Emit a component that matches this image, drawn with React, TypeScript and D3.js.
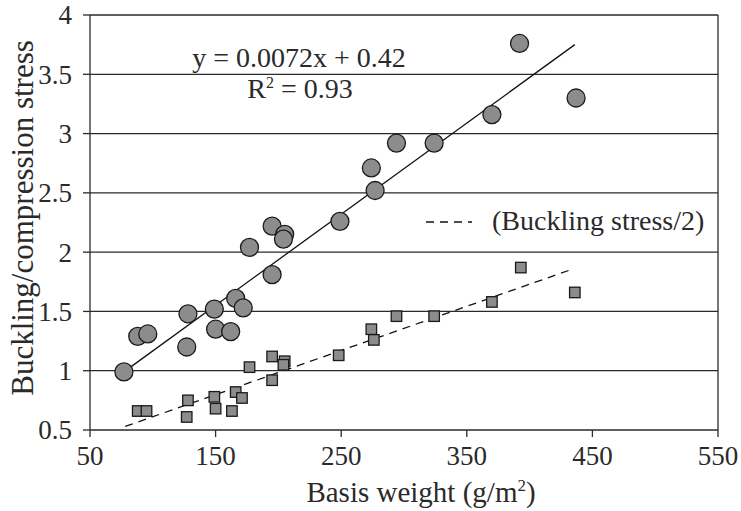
import React from "react";
import * as d3 from "d3";

// Compression stress (circles)
const circleX = [77, 88, 96, 127, 128, 149, 150, 162, 166, 172, 177, 195, 195, 205, 204, 249, 274, 277, 294, 324, 370, 392, 437];
const circleY = [0.99, 1.29, 1.31, 1.20, 1.48, 1.52, 1.35, 1.33, 1.61, 1.53, 2.04, 1.81, 2.22, 2.15, 2.11, 2.26, 2.71, 2.52, 2.92, 2.92, 3.16, 3.76, 3.30];

// Buckling stress / 2 (squares)
const squareX = [88, 95, 127, 128, 149, 150, 163, 166, 171, 177, 195, 195, 205, 204, 248, 274, 276, 294, 324, 370, 393, 436];
const squareY = [0.66, 0.66, 0.61, 0.75, 0.78, 0.68, 0.66, 0.82, 0.77, 1.03, 0.92, 1.12, 1.08, 1.05, 1.13, 1.35, 1.26, 1.46, 1.46, 1.58, 1.87, 1.66];

// Trend lines (endpoints)
const solidTrendX = [77, 436];
const solidTrendY = [0.99, 3.75];
const dashTrendX = [78, 435];
const dashTrendY = [0.53, 1.86];

const xTicks = [50, 150, 250, 350, 450, 550];
const yTicks = [0.5, 1, 1.5, 2, 2.5, 3, 3.5, 4];
const yTickLabels = ["0.5", "1", "1.5", "2", "2.5", "3", "3.5", "4"];

const equationText = "y = 0.0072x + 0.42";
const legendText = "(Buckling stress/2)";
const xTitle = "Basis weight (g/m";
const yTitle = "Buckling/compression stress";

const W = 741;
const H = 511;
const left = 90, right = 718, top = 15, bottom = 430;
const TS = { fontFamily: '"Liberation Serif"' };
const INK = "#2a2a2a";
const FILL = "#8c8c8c";

export default function App() {
  const x = d3.scaleLinear().domain([50, 550]).range([left, right]);
  const y = d3.scaleLinear().domain([0.5, 4]).range([bottom, top]);
  const line = d3.line<[number, number]>().x((d) => x(d[0])).y((d) => y(d[1]));
  const solid: [number, number][] = solidTrendX.map((v, i) => [v, solidTrendY[i]]);
  const dashed: [number, number][] = dashTrendX.map((v, i) => [v, dashTrendY[i]]);
  const sq = 10.5;

  return (
    <svg width={W} height={H} style={{ position: "absolute", left: 0, top: 0, background: "#fff" }}>
      {/* gridlines */}
      {yTicks.map((t) => (
        <line key={"g" + t} x1={left} x2={right} y1={y(t)} y2={y(t)} stroke={INK} strokeWidth={1.3} />
      ))}
      {/* axes */}
      <line x1={left} x2={left} y1={top} y2={bottom} stroke={INK} strokeWidth={1.3} />
      <line x1={right} x2={right} y1={top} y2={bottom} stroke={INK} strokeWidth={1.3} />
      {yTicks.map((t, i) => (
        <g key={"yt" + t}>
          <line x1={left - 7} x2={left} y1={y(t)} y2={y(t)} stroke={INK} strokeWidth={1.3} />
          <text x={72} y={y(t)} dy="0.35em" textAnchor="end" fontSize={27} fill={INK} style={TS}>{yTickLabels[i]}</text>
        </g>
      ))}
      {xTicks.map((t) => (
        <g key={"xt" + t}>
          <line x1={x(t)} x2={x(t)} y1={bottom} y2={bottom + 7} stroke={INK} strokeWidth={1.3} />
          <text x={x(t)} y={465} textAnchor="middle" fontSize={27} fill={INK} style={TS}>{t}</text>
        </g>
      ))}
      {/* trend lines */}
      <path d={line(solid) || ""} fill="none" stroke="#111" strokeWidth={1.3} />
      <path d={line(dashed) || ""} fill="none" stroke="#111" strokeWidth={1.3} strokeDasharray="8,6" />
      {/* squares */}
      {squareX.map((v, i) => (
        <rect key={"s" + i} x={x(v) - sq / 2} y={y(squareY[i]) - sq / 2} width={sq} height={sq} fill={FILL} stroke="#1a1a1a" strokeWidth={1.3} />
      ))}
      {/* circles */}
      {circleX.map((v, i) => (
        <circle key={"c" + i} cx={x(v)} cy={y(circleY[i])} r={9} fill={FILL} stroke="#1a1a1a" strokeWidth={1.3} />
      ))}
      {/* equation */}
      <text x={299} y={67} textAnchor="middle" fontSize={28} fill={INK} style={TS}>{equationText}</text>
      <text x={300} y={98} textAnchor="middle" fontSize={28} fill={INK} style={TS}>
        R<tspan fontSize={16} dy={-10}>2</tspan><tspan dy={10}> = 0.93</tspan>
      </text>
      {/* legend */}
      <line x1={426} x2={472} y1={222} y2={222} stroke="#111" strokeWidth={1.3} strokeDasharray="8,6" />
      <text x={492} y={230} fontSize={28} fill={INK} style={TS}>{legendText}</text>
      {/* axis titles */}
      <text x={421} y={502} textAnchor="middle" fontSize={29} fill={INK} style={TS}>
        {xTitle}<tspan fontSize={17} dy={-11}>2</tspan><tspan dy={11}>)</tspan>
      </text>
      <text transform={`translate(33,218) rotate(-90)`} textAnchor="middle" fontSize={31} fill={INK} style={TS}>{yTitle}</text>
    </svg>
  );
}
